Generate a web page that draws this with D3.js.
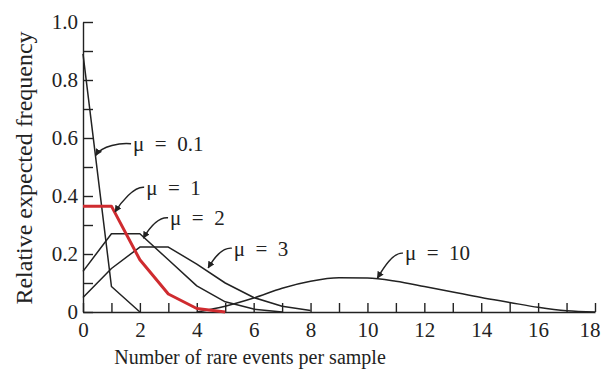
<!DOCTYPE html>
<html>
<head>
<meta charset="utf-8">
<script src="https://cdn.jsdelivr.net/npm/d3@7"></script>
<style>
  body { margin: 0; background: #fff; overflow: hidden; }
  svg { display: block; }
  text { font-family: "Liberation Serif", "DejaVu Serif", serif; fill: #222; }
</style>
</head>
<body>
<div id="chart"></div>
<script>
// Poisson curves, values
const events = [0, 1, 2, 3, 4, 5, 6, 7, 8, 9, 10, 11, 12, 13, 14, 15, 16, 17, 18]
const mu01 = [0.89, 0.088, 0.0]
const mu1 = [0.365, 0.365, 0.18, 0.062, 0.012, 0.0]
const mu2 = [0.14, 0.27, 0.27, 0.18, 0.09, 0.035, 0.01, 0.0]
const mu3 = [0.05, 0.15, 0.224, 0.224, 0.165, 0.1, 0.05, 0.02, 0.005]
const mu10 = [null, null, null, null, 0.0, 0.02, 0.048, 0.082, 0.106, 0.118, 0.117, 0.106, 0.088, 0.069, 0.05, 0.033, 0.016, 0.004, 0.0]

const xTicks = d3.range(0, 19, 1)
const xLabels = [0, 2, 4, 6, 8, 10, 12, 14, 16, 18]
const yTicks = d3.range(0, 1.01, 0.1)
const yLabels = ['0', '0.2', '0.4', '0.6', '0.8', '1.0']

const labels = ['μ  =  0.1', 'μ  =  1', 'μ  =  2', 'μ  =  3', 'μ  =  10']

// annotation placement (data units): arrow tip and text start
const notes = [
  { tip: [0.45, 0.54], text: [1.76, 0.58] },
  { tip: [1.13, 0.345], text: [2.22, 0.43] },
  { tip: [2.12, 0.255], text: [3.06, 0.325] },
  { tip: [4.4, 0.152], text: [5.3, 0.22] },
  { tip: [10.35, 0.117], text: [11.32, 0.203] }
]

const width = 602
const height = 370
const margin = { top: 22, right: 7, bottom: 58, left: 83 }
const innerWidth = width - margin.left - margin.right
const innerHeight = height - margin.top - margin.bottom

const svg = d3.select('#chart').append('svg')
  .attr('width', width)
  .attr('height', height)

const g = svg.append('g')
  .attr('transform', `translate(${margin.left},${margin.top})`)

const x = d3.scaleLinear().domain([0, 18]).range([0, innerWidth])
const y = d3.scaleLinear().domain([0, 1]).range([innerHeight, 0])

// Axes
g.append('g')
  .attr('transform', `translate(0,${innerHeight})`)
  .call(d3.axisBottom(x)
    .tickValues(xTicks)
    .tickSizeInner(-9)
    .tickSizeOuter(0)
    .tickPadding(10)
    .tickFormat(d => xLabels.includes(d) ? d : ''))

g.append('g')
  .call(d3.axisLeft(y)
    .tickValues(yTicks)
    .tickSizeInner(-10)
    .tickSizeOuter(0)
    .tickPadding(5)
    .tickFormat((d, i) => i % 2 === 0 ? yLabels[i / 2] : ''))

g.selectAll('.domain, .tick line')
  .attr('stroke', '#222')
  .attr('stroke-width', 1.4)
g.selectAll('.tick text')
  .attr('font-family', '"Liberation Serif", serif')
  .attr('font-size', 21)
  .attr('fill', '#222')
g.selectAll('.tick text').filter(function () { return this.textContent === '' }).remove()
// last x label sits against the right edge, keep it inside
g.selectAll('.tick text').filter(function () { return this.textContent === '18' })
  .attr('text-anchor', 'end')
  .attr('dx', 5)

// Curves
const line = d3.line()
  .defined(d => d[1] !== null)
  .x(d => x(d[0]))
  .y(d => y(d[1]))

const series = [
  { values: mu01, color: '#222', w: 1.5, curve: d3.curveLinear },
  { values: mu2, color: '#222', w: 1.5, curve: d3.curveLinear },
  { values: mu3, color: '#222', w: 1.5, curve: d3.curveLinear },
  { values: mu10, color: '#222', w: 1.5, curve: d3.curveMonotoneX },
  { values: mu1, color: '#cf2b2f', w: 3, curve: d3.curveLinear }
]

series.forEach(s => {
  const pts = s.values.map((v, i) => [events[i], v])
  g.append('path')
    .datum(pts)
    .attr('fill', 'none')
    .attr('stroke', s.color)
    .attr('stroke-width', s.w)
    .attr('stroke-linejoin', 'round')
    .attr('d', line.curve(s.curve))
})

// Annotations
svg.append('defs').append('marker')
  .attr('id', 'arrow')
  .attr('viewBox', '0 0 10 10')
  .attr('refX', 9)
  .attr('refY', 5)
  .attr('markerWidth', 5)
  .attr('markerHeight', 5)
  .attr('orient', 'auto')
  .append('path')
  .attr('d', 'M0,0 L10,5 L0,10 z')
  .attr('fill', '#222')

notes.forEach((n, i) => {
  const tx = x(n.text[0])
  const ty = y(n.text[1])
  const px = x(n.tip[0])
  const py = y(n.tip[1])
  const p = d3.path()
  p.moveTo(tx - 2, ty)
  p.bezierCurveTo(tx - 12, ty - 1, px + 6, py - 10, px, py)
  g.append('path')
    .attr('d', p.toString())
    .attr('fill', 'none')
    .attr('stroke', '#222')
    .attr('stroke-width', 1.4)
    .attr('marker-end', 'url(#arrow)')

  g.append('text')
    .attr('x', tx)
    .attr('y', ty)
    .attr('dy', '0.35em')
    .attr('font-size', 21)
    .style('white-space', 'pre')
    .text(labels[i])
})

// Axis titles
svg.append('text')
  .attr('transform', 'translate(32,168) rotate(-90)')
  .attr('text-anchor', 'middle')
  .attr('font-size', 24)
  .text('Relative expected frequency')

svg.append('text')
  .attr('x', 250)
  .attr('y', 364)
  .attr('text-anchor', 'middle')
  .attr('font-size', 20)
  .text('Number of rare events per sample')
</script>
</body>
</html>
